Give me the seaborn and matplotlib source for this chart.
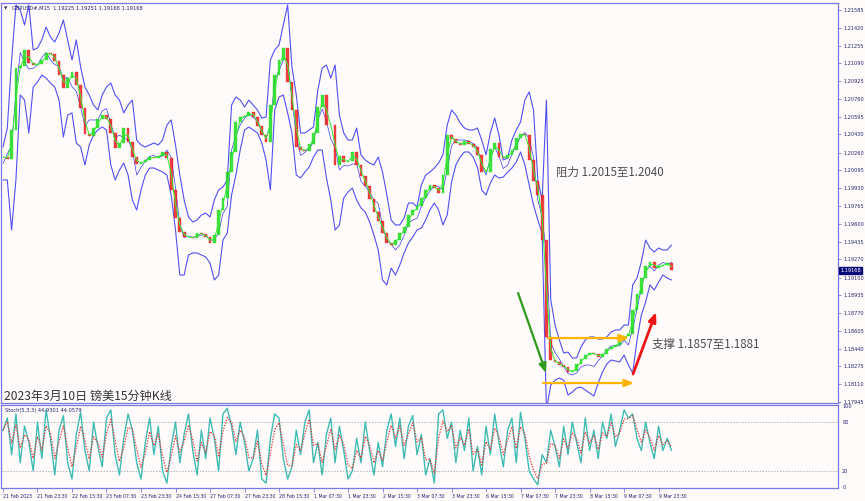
import numpy as np
import pandas as pd
import matplotlib
matplotlib.use("Agg")
import matplotlib.pyplot as plt
import matplotlib.transforms as mtransforms
import seaborn as sns

# ---------------- data (GBPUSD M15, one sample per 8 bars) ----------------
close = [
    1.20220, 1.20201, 1.20471, 1.21046, 1.21065, 1.21214, 1.21093, 1.21074, 1.21084, 1.21121,
    1.21186, 1.21176, 1.21111, 1.20981, 1.20861, 1.20953, 1.21009, 1.20889, 1.20675, 1.20434,
    1.20415, 1.20489, 1.20573, 1.20610, 1.20573, 1.20443, 1.20304, 1.20350, 1.20489, 1.20359,
    1.20220, 1.20155, 1.20174, 1.20192, 1.20220, 1.20211, 1.20229, 1.20267, 1.20211, 1.19914,
    1.19654, 1.19524, 1.19477, 1.19477, 1.19468, 1.19514, 1.19505, 1.19477, 1.19421, 1.19496,
    1.19728, 1.19839, 1.20081, 1.20267, 1.20545, 1.20591, 1.20601, 1.20638, 1.20591, 1.20508,
    1.20424, 1.20359, 1.20703, 1.20981, 1.21121, 1.21232, 1.20917, 1.20657, 1.20313, 1.20285,
    1.20276, 1.20341, 1.20443, 1.20684, 1.20796, 1.20517, 1.20517, 1.20146, 1.20229, 1.20174,
    1.20183, 1.20267, 1.20146, 1.20044, 1.19951, 1.19830, 1.19709, 1.19626, 1.19514, 1.19421,
    1.19403, 1.19449, 1.19514, 1.19570, 1.19682, 1.19728, 1.19765, 1.19839, 1.19914, 1.19960,
    1.19932, 1.19886, 1.20053, 1.20424, 1.20387, 1.20350, 1.20332, 1.20369, 1.20341, 1.20313,
    1.20239, 1.20081, 1.20081, 1.20294, 1.20350, 1.20220, 1.20211, 1.20239, 1.20285, 1.20397,
    1.20434, 1.20424, 1.20192, 1.19997, 1.19867, 1.19449, 1.18549, 1.18335, 1.18317, 1.18289,
    1.18270, 1.18224, 1.18233, 1.18298, 1.18344, 1.18381, 1.18400, 1.18391, 1.18363, 1.18391,
    1.18437, 1.18456, 1.18474, 1.18521, 1.18558, 1.18576, 1.18799, 1.18948, 1.19096, 1.19208,
    1.19245, 1.19189, 1.19208, 1.19217, 1.19236, 1.19168,
]

band_upper = [
    1.20313, 1.20489, 1.21121, 1.21632, 1.21585, 1.21446, 1.21632, 1.21214, 1.21232, 1.21307,
    1.21427, 1.21334, 1.21288, 1.21372, 1.21492, 1.21307, 1.21121, 1.21307, 1.21056, 1.20870,
    1.20796, 1.20703, 1.20657, 1.20796, 1.20870, 1.20907, 1.20796, 1.20749, 1.20629, 1.20703,
    1.20749, 1.20378, 1.20332, 1.20313, 1.20332, 1.20350, 1.20332, 1.20378, 1.20517, 1.20564,
    1.20332, 1.20053, 1.19821, 1.19663, 1.19617, 1.19635, 1.19682, 1.19700, 1.19663, 1.19821,
    1.19914, 1.19942, 1.20007, 1.20703, 1.20777, 1.20749, 1.20684, 1.20749, 1.20703, 1.20657,
    1.20582, 1.20591, 1.21121, 1.21214, 1.21260, 1.21446, 1.21632, 1.21056, 1.20796, 1.20443,
    1.20443, 1.20471, 1.20499, 1.20842, 1.21046, 1.21074, 1.20953, 1.21074, 1.20610, 1.20443,
    1.20378, 1.20378, 1.20489, 1.20239, 1.20192, 1.20164, 1.20146, 1.20220, 1.20081, 1.19867,
    1.19635, 1.19589, 1.19589, 1.19654, 1.19793, 1.19793, 1.19756, 1.19960, 1.20053, 1.20081,
    1.20118, 1.20164, 1.20239, 1.20517, 1.20657, 1.20610, 1.20536, 1.20489, 1.20471, 1.20471,
    1.20489, 1.20378, 1.20239, 1.20443, 1.20582, 1.20424, 1.20192, 1.20211, 1.20378, 1.20471,
    1.20545, 1.20749, 1.20824, 1.20657, 1.20007, 1.19821, 1.20749, 1.18892, 1.18660, 1.18521,
    1.18400, 1.18409, 1.18354, 1.18354, 1.18456, 1.18521, 1.18549, 1.18549, 1.18530, 1.18530,
    1.18549, 1.18595, 1.18614, 1.18614, 1.18660, 1.18660, 1.19032, 1.19096, 1.19245, 1.19449,
    1.19375, 1.19338, 1.19375, 1.19357, 1.19357, 1.19403,
]

band_lower = [
    1.20007, 1.20007, 1.19542, 1.20007, 1.20796, 1.20749, 1.20443, 1.20870, 1.20917, 1.20981,
    1.20953, 1.20907, 1.20870, 1.20749, 1.20406, 1.20610, 1.20629, 1.20350, 1.20313, 1.20146,
    1.20332, 1.20424, 1.20471, 1.20499, 1.20471, 1.20146, 1.20007, 1.20099, 1.20164, 1.20053,
    1.19821, 1.19728, 1.19914, 1.20053, 1.20118, 1.20118, 1.20099, 1.20081, 1.20053, 1.19867,
    1.19542, 1.19124, 1.19124, 1.19310, 1.19329, 1.19329, 1.19310, 1.19292, 1.19236, 1.19078,
    1.19124, 1.19449, 1.19514, 1.19867, 1.20053, 1.20285, 1.20471, 1.20499, 1.20471, 1.20443,
    1.20350, 1.20192, 1.19914, 1.20657, 1.20777, 1.20796, 1.20629, 1.20443, 1.20053, 1.20025,
    1.20081, 1.20127, 1.20220, 1.20285, 1.20285, 1.20025, 1.19821, 1.19542, 1.19589, 1.19839,
    1.19895, 1.19932, 1.19821, 1.19747, 1.19709, 1.19617, 1.19496, 1.19357, 1.19078, 1.19032,
    1.19189, 1.19124, 1.19217, 1.19329, 1.19421, 1.19477, 1.19542, 1.19561, 1.19635, 1.19728,
    1.19793, 1.19728, 1.19589, 1.19682, 1.19988, 1.20146, 1.20220, 1.20267, 1.20267, 1.20220,
    1.20127, 1.19914, 1.19867, 1.19979, 1.20053, 1.20025, 1.20034, 1.20081, 1.20118, 1.20174,
    1.20267, 1.20146, 1.19960, 1.19774, 1.19635, 1.19514, 1.17871, 1.18103, 1.18149, 1.18168,
    1.18149, 1.18010, 1.18038, 1.18075, 1.18084, 1.18056, 1.18029, 1.18001, 1.18121, 1.18224,
    1.18298, 1.18335, 1.18326, 1.18317, 1.18381, 1.18289, 1.18214, 1.18521, 1.18753, 1.18874,
    1.19032, 1.18985, 1.19059, 1.19124, 1.19096, 1.19078,
]

stoch_k = [
    70, 85, 40, 90, 30, 75, 55, 20, 80, 35,
    95, 60, 15, 70, 88, 30, 10, 65, 92, 45,
    20, 80, 50, 25, 85, 95, 40, 15, 60, 90,
    70, 30, 10, 55, 85, 40, 75, 20, 5, 50,
    80, 30, 65, 90, 45, 15, 70, 35, 85, 60,
    20, 90, 97, 75, 40, 80, 55, 20, 35, 70,
    10, 5, 60, 90, 85, 35, 10, 25, 70, 40,
    80, 95, 30, 55, 15, 65, 85, 30, 75, 45,
    10, 20, 60, 30, 80, 45, 15, 55, 25, 70,
    90, 50, 85, 35, 75, 88, 40, 65, 15, 35,
    5, 90, 95, 60, 80, 30, 70, 45, 85, 20,
    50, 15, 75, 40, 90, 55, 25, 70, 85, 30,
    92, 60, 20, 10, 3, 40, 30, 70, 50, 25,
    75, 40, 80, 55, 30, 85, 45, 70, 35, 80,
    60, 90, 50, 70, 95, 85, 90, 60, 45, 80,
    55, 35, 75, 45, 60, 45,
]

price_ticks = [1.21585, 1.21420, 1.21255, 1.21090, 1.20925, 1.20760, 1.20595, 1.20430,
               1.20260, 1.20095, 1.19930, 1.19765, 1.19600, 1.19435, 1.19270, 1.19100,
               1.18935, 1.18770, 1.18605, 1.18440, 1.18275, 1.18110, 1.17945]
time_labels = ["21 Feb 2023", "21 Feb 23:30", "22 Feb 15:30", "23 Feb 07:30", "23 Feb 23:30",
               "24 Feb 15:30", "27 Feb 07:30", "27 Feb 23:30", "28 Feb 15:30", "1 Mar 07:30",
               "1 Mar 23:30", "2 Mar 15:30", "3 Mar 07:30", "3 Mar 23:30", "6 Mar 15:30",
               "7 Mar 07:30", "7 Mar 23:30", "8 Mar 15:30", "9 Mar 07:30", "9 Mar 23:30"]
samples_per_label = 8
stoch_levels = [80, 20]
stoch_ticks = [100, 80, 20, 0]

title_text = "GBPUSD#,M15  1.19225 1.19251 1.19168 1.19168"
stoch_text = "Stoch(5,3,3) 44.9301 44.0579"
caption = "2023年3月10日 镑美15分钟K线"
resist_text = "阻力 1.2015至1.2040"
support_text = "支撑 1.1857至1.1881"
last_price = 1.19168

# ---------------- style ----------------
sns.set_style("white")
plt.rcParams['font.family'] = ['Noto Sans CJK SC', 'DejaVu Sans']
BG = "#fffbfb"
FRAME = "#7878e8"
LABEL = "#22226e"

df = pd.DataFrame({"close": close})
df["idx"] = np.arange(len(df))
df["open"] = df["close"].shift(1).fillna(df["close"].iloc[0])
n_b = min(len(band_upper), len(band_lower), len(df))
bands = pd.DataFrame({"idx": np.arange(n_b), "upper": band_upper[:n_b], "lower": band_lower[:n_b]})
bands["mid"] = (bands["upper"] + bands["lower"]) / 2
df["ma"] = df["close"].rolling(2, min_periods=1).mean()

st = pd.DataFrame({"k": stoch_k})
st["idx"] = np.arange(len(st))
st["d"] = st["k"].ewm(alpha=0.6).mean()

fig = plt.figure(figsize=(8.65, 5.01), dpi=100, facecolor=BG)
W, H = 865.0, 501.0
ax = fig.add_axes([1 / W, 1 - 403 / H, 837 / W, 400 / H], facecolor=BG)
ax2 = fig.add_axes([1 / W, 1 - 488 / H, 837 / W, 83 / H], facecolor=BG)

# bands
sns.lineplot(data=bands, x="idx", y="upper", ax=ax, color="#5050f5", lw=0.8, sort=False, legend=False)
sns.lineplot(data=bands, x="idx", y="lower", ax=ax, color="#5050f5", lw=0.8, sort=False, legend=False)

# candles
up = df["close"] >= df["open"]
colors = np.where(up, "#22d922", "#ee2020")
heights = (df["close"] - df["open"]).values
heights = np.where(np.abs(heights) < 0.00004, 0.00004, heights)
ax.bar(df["idx"], heights, bottom=df["open"], width=0.65, color=colors, edgecolor=colors,
       linewidth=0.3, alpha=0.85, zorder=3)
sns.lineplot(data=bands, x="idx", y="mid", ax=ax, color="#3a3af0", lw=0.5, sort=False, legend=False)
sns.lineplot(data=df, x="idx", y="ma", ax=ax, color="#33ee33", lw=0.7, sort=False, legend=False,
             zorder=4)

xmin, xmax = -0.46, 193.6
ax.set_xlim(xmin, xmax)
ax.set_ylim(1.17936, 1.21650)
ax.set_xlabel("")
ax.set_ylabel("")
ax.set_xticks([])
ax.yaxis.tick_right()
ax.set_yticks(price_ticks)
ax.set_yticklabels([f"{v:.5f}" for v in price_ticks])
ax.tick_params(axis="y", right=True, length=2.5, width=0.6, color=FRAME, pad=1.5,
               labelsize=3.6, labelcolor=LABEL)
for lab in ax.get_yticklabels():
    lab.set_family("DejaVu Sans")
for s in ax.spines.values():
    s.set_color(FRAME)
    s.set_linewidth(0.9)

# last price box
tr = mtransforms.blended_transform_factory(ax.transAxes, ax.transData)
ax.text(1.0025, last_price, f"{last_price:.5f}", transform=tr, fontsize=3.6, color="white",
        family="DejaVu Sans", va="center", ha="left",
        bbox=dict(boxstyle="square,pad=0.25", fc="#0a0a78", ec="#0a0a78"))

# titles / captions
ax.text(0.004, 0.992, "▼", transform=ax.transAxes, fontsize=3.2, color=LABEL,
        family="DejaVu Sans", va="top", ha="left")
ax.text(0.013, 0.993, title_text, transform=ax.transAxes, fontsize=3.7, color=LABEL,
        family="DejaVu Sans", va="top", ha="left")
ax.text(0.004, 0.0175, caption, transform=ax.transAxes, fontsize=8.7, color="#333333",
        va="center", ha="left")


def px2data(x, y):
    return (x - 3) / 4.3125, 1.21678 - 0.00009286 * y


# annotations
ax.text(*px2data(556, 172.5), resist_text, fontsize=8.3, color="#4d4d4d", va="center", ha="left")
ax.text(*px2data(652, 344), support_text, fontsize=8.3, color="#4d4d4d", va="center", ha="left")

arrows = [
    ((518, 293), (546, 373), "#2f9a1c", 1.6),
    ((633, 374), (656, 312), "#ee1515", 2.0),
    ((548, 338), (629, 338), "#ffb400", 1.6),
    ((543, 383), (634, 383), "#ffb400", 1.6),
]
for (x0, y0), (x1, y1), c, lw in arrows:
    ax.annotate("", xy=px2data(x1, y1), xytext=px2data(x0, y0),
                arrowprops=dict(arrowstyle="-|>,head_width=0.22,head_length=0.55", color=c,
                                lw=lw, shrinkA=0, shrinkB=0, mutation_scale=10), zorder=6)

# stochastic panel
sns.lineplot(data=st, x="idx", y="k", ax=ax2, color="#3fbcb2", lw=1.0, sort=False, legend=False)
sns.lineplot(data=st, x="idx", y="d", ax=ax2, color="#e83030", lw=0.9, ls=(0, (1, 1.2)),
             sort=False, legend=False)
for lv in stoch_levels:
    ax2.axhline(lv, color="#b4b4b4", lw=0.7, ls=(0, (1.5, 1.5)), zorder=0)
ax2.set_xlim(xmin, xmax)
ax2.set_ylim(-1, 101)
ax2.set_xlabel("")
ax2.set_ylabel("")
ax2.yaxis.tick_right()
ax2.set_yticks(stoch_ticks)
ax2.set_yticklabels([str(v) for v in stoch_ticks])
ax2.tick_params(axis="y", right=True, length=0, pad=3, labelsize=3.6, labelcolor=LABEL)
xt = [samples_per_label * k for k in range(len(time_labels))]
ax2.set_xticks(xt)
ax2.set_xticklabels(time_labels)
ax2.tick_params(axis="x", bottom=True, length=3, width=0.6, color=FRAME, pad=1.2,
                labelsize=3.3, labelcolor=LABEL)
for lab in ax2.get_xticklabels() + ax2.get_yticklabels():
    lab.set_family("DejaVu Sans")
    lab.set_horizontalalignment("left")
for s in ax2.spines.values():
    s.set_color(FRAME)
    s.set_linewidth(0.9)
ax2.text(0.005, 0.96, stoch_text, transform=ax2.transAxes, fontsize=3.7, color=LABEL,
         family="DejaVu Sans", va="top", ha="left")

fig.savefig("out.png", dpi=100, facecolor=BG)
